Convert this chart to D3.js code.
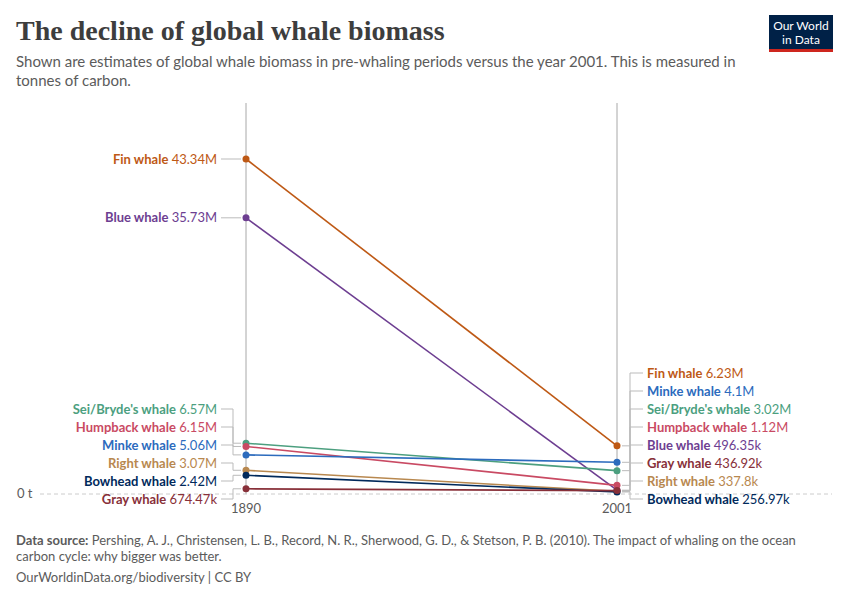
<!DOCTYPE html>
<html><head><meta charset="utf-8">
<script src="https://cdn.jsdelivr.net/npm/d3@7"></script>
<style>body{margin:0;background:#fff;font-family:Lato,sans-serif}</style>
</head><body><svg id="c" width="850" height="600"></svg>
<script>
// données (millions de tonnes de carbone)
var species = ["Fin whale","Blue whale","Sei/Bryde's whale","Humpback whale","Minke whale","Right whale","Bowhead whale","Gray whale"];
var v1890 = [43.34,35.73,6.57,6.15,5.06,3.07,2.42,0.67447];
var v2001 = [6.23,0.49635,3.02,1.12,4.1,0.3378,0.25697,0.43692];
var colors = ["#be5915","#6d3e91","#4c9f7f","#c94a63","#2c6bbd","#b8884f","#00295b","#883039"];
var years = ["1890","2001"];

var svg = d3.select("#c");
var x = d3.scalePoint().domain(years).range([246,617]);
var y = d3.scaleLinear().domain([0,43.34]).range([494,159]);

function fmt(v){ return v>=1 ? (+v.toFixed(2))+"M" : (+(v*1000).toFixed(2))+"k"; }

// titre
svg.append("text").attr("x",16).attr("y",40).attr("font-family","'Liberation Serif',serif").attr("font-weight","bold")
  .attr("font-size",28).attr("fill","#3d3d3d").text("The decline of global whale biomass");
svg.append("text").attr("x",16).attr("y",67).attr("font-size",15).attr("fill","#5b5b5b")
  .text("Shown are estimates of global whale biomass in pre-whaling periods versus the year 2001. This is measured in");
svg.append("text").attr("x",16).attr("y",86).attr("font-size",15).attr("fill","#5b5b5b").text("tonnes of carbon.");
// logo
svg.append("rect").attr("x",769).attr("y",15).attr("width",64).attr("height",36).attr("fill","#002147");
svg.append("rect").attr("x",769).attr("y",49).attr("width",64).attr("height",3).attr("fill","#ce261e");
svg.append("text").attr("x",801).attr("y",30).attr("text-anchor","middle").attr("fill","#fff").attr("font-size",12).text("Our World");
svg.append("text").attr("x",801).attr("y",44).attr("text-anchor","middle").attr("fill","#fff").attr("font-size",12).text("in Data");

// axes
years.forEach(function(yr){
  svg.append("line").attr("x1",x(yr)).attr("x2",x(yr)).attr("y1",103).attr("y2",494).attr("stroke","#a8a8a8");
  svg.append("text").attr("x",x(yr)).attr("y",513).attr("text-anchor","middle").attr("font-size",13).attr("fill","#5b5b5b").text(yr);
});
svg.append("line").attr("x1",40).attr("x2",832).attr("y1",y(0)).attr("y2",y(0)).attr("stroke","#ccc").attr("stroke-dasharray","4,3");
svg.append("text").attr("x",17).attr("y",y(0)+4).attr("font-size",13).attr("fill","#5b5b5b").text("0 t");

var data = species.map(function(s,i){ return {name:s,a:v1890[i],b:v2001[i],c:colors[i]}; });

// lignes
data.forEach(function(d){
  svg.append("line").attr("x1",x("1890")).attr("y1",y(d.a)).attr("x2",x("2001")).attr("y2",y(d.b))
    .attr("stroke",d.c).attr("stroke-width",1.6);
  svg.append("circle").attr("cx",x("1890")).attr("cy",y(d.a)).attr("r",3.5).attr("fill",d.c);
  svg.append("circle").attr("cx",x("2001")).attr("cy",y(d.b)).attr("r",3.5).attr("fill",d.c);
});

// placement des étiquettes
function dodge(key){
  var items = data.map(function(d){ return {d:d,v:d[key],ly:y(d[key])}; })
    .sort(function(p,q){ return q.v-p.v; });
  for(var i=1;i<items.length;i++) items[i].ly=Math.max(items[i].ly,items[i-1].ly+18);
  var n=items.length; if(items[n-1].ly>499) items[n-1].ly=499;
  for(var j=n-2;j>=0;j--) items[j].ly=Math.min(items[j].ly,items[j+1].ly-18);
  return items;
}

function label(it,px,anchor,lx){
  var t = svg.append("text").attr("x",lx).attr("y",it.ly+4.5).attr("text-anchor",anchor).attr("font-size",13);
  t.append("tspan").attr("font-weight","bold").attr("fill",it.d.c).text(it.d.name);
  t.append("tspan").attr("fill",it.d.c).text(" "+fmt(it.v));
}

dodge("a").forEach(function(it){
  var py=y(it.v), px=x("1890");
  if(Math.abs(py-it.ly)<1){
    svg.append("line").attr("x1",221).attr("x2",px-5).attr("y1",py).attr("y2",py).attr("stroke","#bbb");
  } else {
    svg.append("path").attr("fill","none").attr("stroke","#bbb")
      .attr("d","M221,"+it.ly+"H233V"+py+"H"+(px-5));
  }
  label(it,px,"end",217);
});
dodge("b").forEach(function(it){
  var py=y(it.v), px=x("2001");
  svg.append("path").attr("fill","none").attr("stroke","#bbb")
    .attr("d","M"+(px+5)+","+py+"H630V"+it.ly+"H643");
  label(it,px,"start",647);
});

// source
svg.append("text").attr("x",16).attr("y",545).attr("font-size",13).attr("fill","#5b5b5b")
  .html("<tspan font-weight='bold'>Data source:</tspan> Pershing, A. J., Christensen, L. B., Record, N. R., Sherwood, G. D., &amp; Stetson, P. B. (2010). The impact of whaling on the ocean");
svg.append("text").attr("x",16).attr("y",561).attr("font-size",13).attr("fill","#5b5b5b").text("carbon cycle: why bigger was better.");
svg.append("text").attr("x",16).attr("y",582).attr("font-size",13).attr("fill","#5b5b5b").text("OurWorldinData.org/biodiversity | CC BY");
</script></body></html>
